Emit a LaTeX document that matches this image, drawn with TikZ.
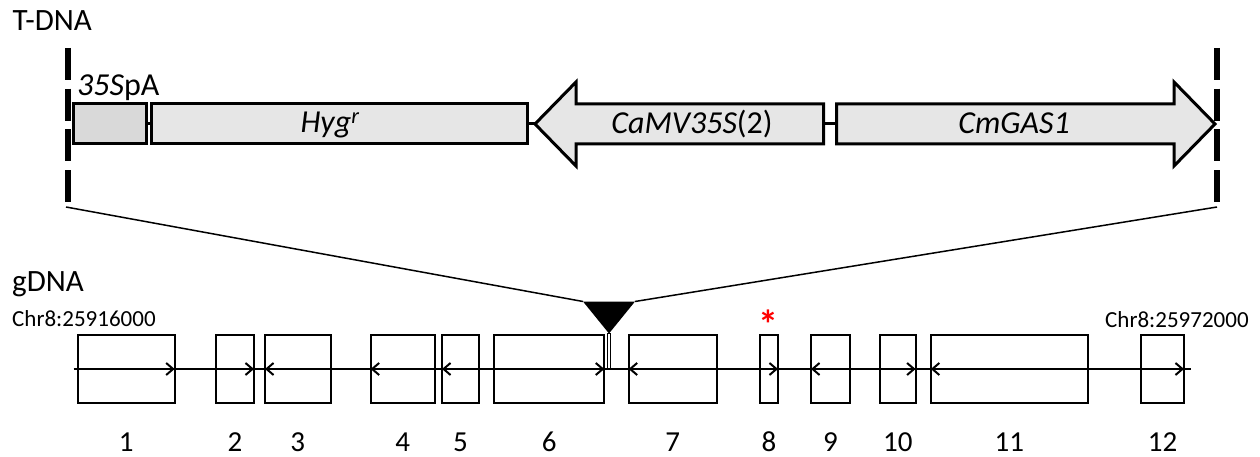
\documentclass[tikz,border=0pt]{standalone}
\usepackage{fontspec}
\setmainfont{Carlito}
\usetikzlibrary{arrows.meta}
\definecolor{partgray}{HTML}{E6E6E6}
\definecolor{pagray}{HTML}{D9D9D9}
\begin{document}
\begin{tikzpicture}[x=1pt,y=-1pt,
  title/.style={anchor=base west,inner sep=0,font=\fontsize{31}{36}\selectfont},
  chr/.style={anchor=base west,inner sep=0,font=\fontsize{23}{28}\selectfont},
  genelabel/.style={anchor=base,inner sep=0,font=\fontsize{32}{38}\selectfont},
  num/.style={anchor=base,inner sep=0,font=\fontsize{29}{34}\selectfont},
  exon/.style={draw,line width=2pt,minimum height=68pt,inner sep=0,outer sep=0},
  part/.style={draw,line width=3pt,fill=partgray,minimum height=40pt,inner sep=0,outer sep=0},
  partarrow/.style={draw,line width=3pt,fill=partgray,line join=miter},
  link/.style={line width=3pt},
  border/.style={line width=6pt,dash pattern=on 32pt off 8.67pt},
  fan/.style={line width=1.5pt},
  exarrow/.style={line width=2pt,-{Straight Barb[length=7pt,width=12pt]}},
  backbone/.style={line width=2pt},
]
\useasboundingbox (0,0) rectangle (1260,457);

% ---------- T-DNA ----------
\node[title] (tdna) at (12.5,31) {T-DNA};

\coordinate (dlt) at (68,48);
\coordinate (dlb) at (68,202);
\coordinate (drt) at (1216.5,48);
\coordinate (drb) at (1216.5,202);
\draw[border] (dlt) -- (dlb);
\draw[border] (drt) -- (drb);

\node[anchor=base west,inner sep=0,font=\fontsize{32}{38}\selectfont] (pal) at (77,96) {\textit{35S}pA};
\node[part,fill=pagray,minimum width=73pt] (pa) at (109.5,124) {};
\node[part,minimum width=376pt] (hyg) at (339,124) {};
\node[genelabel] (hygt) at (330,133) {\textit{Hyg\textsuperscript{r}}};

% CaMV35S(2) arrow (pointing left)
\coordinate (camvtip) at (535,124);
\coordinate (camvend) at (823.5,124);
\draw[partarrow] (camvtip) -- (576,82) -- (576,104) -- (823.5,104) -- (823.5,144)
  -- (576,144) -- (576,166) -- cycle;
\node[genelabel] (camvt) at (692,134) {\textit{CaMV35S}(2)};

% CmGAS1 arrow (pointing right)
\coordinate (gasstart) at (836.5,124);
\coordinate (gastip) at (1215,124);
\draw[partarrow] (836.5,104) -- (1174,104) -- (1174,82) -- (gastip) -- (1174,166)
  -- (1174,144) -- (836.5,144) -- cycle;
\node[genelabel] (gast) at (1014,134) {\textit{CmGAS1}};

\draw[link] (pa.east) -- (hyg.west);
\draw[link] (hyg.east) -- (camvtip);
\draw[link] (camvend) -- (gasstart);

% ---------- fan to insertion ----------
\coordinate (fanl) at (66,207);
\coordinate (fanr) at (1217,207);
\coordinate (tl) at (583,301.5);
\coordinate (tr) at (635,301.5);
\coordinate (tt) at (609,333.5);
\draw[fan] (fanl) -- (tl);
\draw[fan] (fanr) -- (tr);
\fill (tl) -- (tr) -- (tt) -- cycle;

% ---------- gDNA ----------
\node[title] (gdna) at (12,291) {gDNA};
\node[chr] (chrl) at (12,326) {Chr8:25916000};
\node[chr] (chrr) at (1105,327) {Chr8:25972000};

\coordinate (gs) at (73.5,369);
\coordinate (ge) at (1191,369);
\draw[backbone] (gs) -- (ge);

\node[exon,minimum width=97.1pt] (b1) at (126.15,369) {};
\node[exon,minimum width=38pt] (b2) at (235,369) {};
\node[exon,minimum width=65.6pt] (b3) at (297.8,369) {};
\node[exon,minimum width=64.1pt] (b4) at (402.65,369) {};
\node[exon,minimum width=36.8pt] (b5) at (460.4,369) {};
\node[exon,minimum width=110.3pt] (b6) at (549.15,369) {};
\node[exon,minimum width=88.4pt] (b7) at (672.8,369) {};
\node[exon,minimum width=18pt] (b8) at (769,369) {};
\node[exon,minimum width=39pt] (b9) at (830.5,369) {};
\node[exon,minimum width=35.6pt] (b10) at (897.8,369) {};
\node[exon,minimum width=157.2pt] (b11) at (1009.4,369) {};
\node[exon,minimum width=43pt] (b12) at (1162.5,369) {};

\draw[exarrow] (b1.west) -- (b1.east);
\draw[exarrow] (b2.west) -- (b2.east);
\draw[exarrow] (b3.east) -- (b3.west);
\draw[exarrow] (b4.east) -- (b4.west);
\draw[exarrow] (b5.east) -- (b5.west);
\draw[exarrow] (b6.west) -- (b6.east);
\draw[exarrow] (b7.east) -- (b7.west);
\draw[exarrow] (b8.west) -- (b8.east);
\draw[exarrow] (b9.east) -- (b9.west);
\draw[exarrow] (b10.west) -- (b10.east);
\draw[exarrow] (b11.east) -- (b11.west);
\draw[exarrow] (b12.west) -- (b12.east);

% insertion stem
\draw[line width=0.8pt,fill=white] (607.5,333.5) rectangle (610.5,368);

% mutation mark
\node[anchor=base,inner sep=0,text=red,font=\fontsize{40}{46}\selectfont\bfseries] (star) at (768.5,338) {*};

% exon numbers
\node[num] (n1) at (b1.center |- 0,451) {1};
\node[num] (n2) at (b2.center |- 0,451) {2};
\node[num] (n3) at (b3.center |- 0,451) {3};
\node[num] (n4) at (b4.center |- 0,451) {4};
\node[num] (n5) at (b5.center |- 0,451) {5};
\node[num] (n6) at (b6.center |- 0,451) {6};
\node[num] (n7) at (b7.center |- 0,451) {7};
\node[num] (n8) at (b8.center |- 0,451) {8};
\node[num] (n9) at (b9.center |- 0,451) {9};
\node[num] (n10) at (b10.center |- 0,451) {10};
\node[num] (n11) at (b11.center |- 0,451) {11};
\node[num] (n12) at (b12.center |- 0,451) {12};
\end{tikzpicture}
\end{document}
